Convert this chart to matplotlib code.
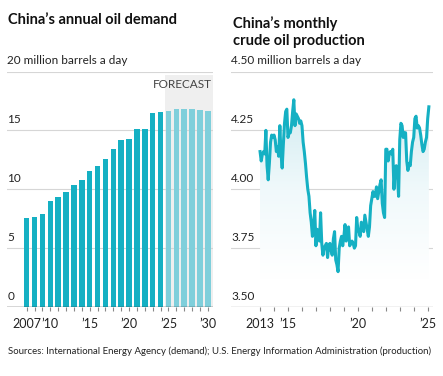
import numpy as np
import matplotlib.pyplot as plt
from matplotlib.colors import LinearSegmentedColormap

plt.rcParams['font.family'] = ['Lato', 'DejaVu Sans']

# annual demand, million barrels a day
years = list(range(2007, 2031))
demand = [7.57, 7.68, 7.94, 8.98, 9.35, 9.77, 10.34, 10.76, 11.55, 11.95,
          12.57, 13.45, 14.15, 14.27, 15.14, 15.14, 16.44, 16.55,
          16.67, 16.84, 16.84, 16.84, 16.75, 16.67]
first_forecast = 2025
demand_ticks = [2007, 2010, 2015, 2020, 2025, 2030]
demand_ticklabels = ['2007', '\u201910', '\u201915', '\u201920', '\u201925', '\u201930']

# monthly crude production, Jan 2013 - Feb 2025
production = [
    4.16, 4.12, 4.15, 4.16, 4.15, 4.25, 4.10, 4.04, 4.11, 4.20, 4.23, 4.22,
    4.23, 4.21, 4.16, 4.18, 4.14, 4.27, 4.15, 4.09, 4.19, 4.28, 4.33, 4.34,
    4.22, 4.24, 4.24, 4.27, 4.33, 4.38, 4.27, 4.32, 4.31, 4.30, 4.28, 4.29,
    4.27, 4.20, 4.16, 4.11, 4.05, 4.00, 3.97, 3.90, 3.86, 3.80, 3.85, 3.91,
    3.76, 3.83, 3.80, 3.78, 3.90, 3.77, 3.72, 3.75, 3.76, 3.77, 3.71, 3.76,
    3.77, 3.74, 3.72, 3.79, 3.82, 3.70, 3.68, 3.65, 3.75, 3.78, 3.80, 3.76,
    3.80, 3.85, 3.78, 3.83, 3.84, 3.76, 3.77, 3.78, 3.77, 3.75, 3.76, 3.88,
    3.83, 3.82, 3.80, 3.86, 3.84, 3.82, 3.89, 3.86, 3.83, 3.80, 3.84, 3.93,
    3.96, 3.99, 3.97, 3.97, 4.01, 3.96, 3.99, 4.02, 4.04, 3.94, 3.90, 3.88,
    4.17, 4.17, 4.12, 4.15, 4.16, 4.15, 4.17, 4.00, 4.08, 4.10, 4.06, 3.97,
    4.21, 4.28, 4.27, 4.22, 4.24, 4.24, 4.12, 4.08, 4.11, 4.10, 4.16, 4.20,
    4.22, 4.30, 4.31, 4.26, 4.27, 4.26, 4.23, 4.19, 4.16, 4.17, 4.20, 4.22,
    4.30, 4.35]
prod_start = 2013
prod_ticks = [2013, 2015, 2020, 2025]
prod_ticklabels = ['2013', '\u201915', '\u201920', '\u201925']

teal = '#15b0c3'
teal_light = '#7fcfdb'
grid_c = '#d6d6d6'
text_c = '#222222'

W, H = 443, 376
fig = plt.figure(figsize=(W / 100, H / 100), dpi=100)
bottom = (H - 307) / H
height = (307 - 71.5) / H

ax1 = fig.add_axes([7 / W, bottom, 206 / W, height])
ax2 = fig.add_axes([231 / W, bottom, 202 / W, height])

# ---- left: annual demand
colors = [teal if y < first_forecast else teal_light for y in years]
ax1.axvspan(first_forecast - 0.5, 2030.7, ymin=0, ymax=0.985, color='#efefef', lw=0, zorder=0)
ax1.bar(years, demand, width=0.7, color=colors, zorder=3)
ax1.set_xlim(2004.5, 2030.65)
ax1.set_ylim(0, 20)
for v in [5, 10, 15, 20]:
    ax1.axhline(v, color=grid_c, lw=0.8, zorder=1)
ax1.axhline(0, color='#333333', lw=1, zorder=4)
for v, lab in zip([0, 5, 10, 15], ['0', '5', '10', '15']):
    ax1.text(2004.55, v + 0.45, lab, fontsize=8.5, color=text_c, va='bottom', ha='left')
ax1.text(2004.55, 20.45, '20 million barrels a day', fontsize=8.5, color=text_c,
         va='bottom', ha='left')
ax1.text(2030.5, 18.9, 'FORECAST', fontsize=8.5, color='#444444', ha='right', va='center')
ax1.set_xticks(years, minor=True)
ax1.set_xticks(demand_ticks)
ax1.set_xticklabels(demand_ticklabels)
ax1.set_yticks([])

# ---- right: monthly production
t = prod_start + np.arange(len(production)) / 12
for v in [3.75, 4.0, 4.25, 4.5]:
    ax2.axhline(v, color=grid_c, lw=0.8, zorder=1)
ax2.axhline(3.5, color='#bbbbbb', lw=1, zorder=1)

cmap = LinearSegmentedColormap.from_list('fade', ['#ffffff', '#f0f9fb', '#d2ecf1'])
grad = np.linspace(0, 1, 200).reshape(-1, 1)
img = ax2.imshow(grad, cmap=cmap, aspect='auto', origin='lower',
                 extent=[t[0], t[-1], 3.62, 4.38], zorder=1)
poly = ax2.fill_between(t, production, 3.5, color='none', lw=0)
img.set_clip_path(poly.get_paths()[0], transform=ax2.transData)
ax2.set_xlim(2010.92, 2025.38)
ax2.set_ylim(3.5, 4.5)

ax2.plot(t, production, color=teal, lw=2.2, zorder=3, solid_joinstyle='round')
for v, lab in zip([3.5, 3.75, 4.0, 4.25], ['3.50', '3.75', '4.00', '4.25']):
    ax2.text(2010.95, v + 0.022, lab, fontsize=8.5, color=text_c, va='bottom', ha='left')
ax2.text(2010.95, 4.522, '4.50 million barrels a day', fontsize=8.5, color=text_c,
         va='bottom', ha='left')
ax2.set_xticks(range(2013, 2026), minor=True)
ax2.set_xticks(prod_ticks)
ax2.set_xticklabels(prod_ticklabels)
ax2.set_yticks([])

for ax in (ax1, ax2):
    for s in ax.spines.values():
        s.set_visible(False)
    ax.tick_params(axis='x', which='both', length=3, color='#888888', width=0.8,
                   labelsize=9, labelcolor=text_c, pad=5)

fig.text(8 / W, 1 - 20 / H, 'China\u2019s annual oil demand', fontsize=10.5,
         fontweight='bold', color='#111111', va='center', ha='left')
fig.text(233 / W, 1 - 32 / H, 'China\u2019s monthly\ncrude oil production', fontsize=10.5,
         fontweight='bold', color='#111111', va='center', ha='left', linespacing=1.25)
fig.text(8 / W, 1 - 351 / H,
         'Sources: International Energy Agency (demand); U.S. Energy Information Administration (production)',
         fontsize=6.9, color=text_c, va='center', ha='left')

fig.savefig('out.png', dpi=100)
